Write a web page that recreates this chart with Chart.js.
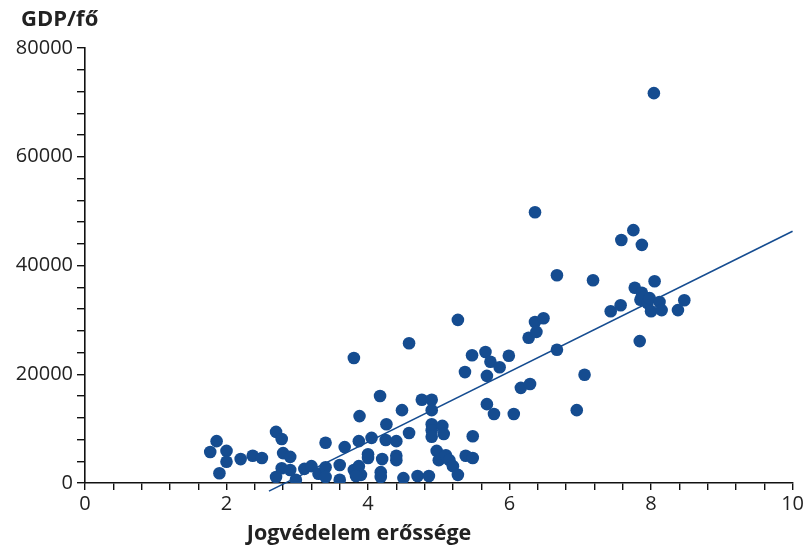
<!DOCTYPE html>
<html>
<head>
<meta charset="utf-8">
<script src="https://cdn.jsdelivr.net/npm/chart.js@4/dist/chart.umd.min.js"></script>
<style>
html,body{margin:0;padding:0;background:#fff;}
#wrap{width:806px;height:548px;position:relative;}
</style>
</head>
<body>
<div id="wrap"><canvas id="c" width="806" height="548"></canvas></div>
<script>
const yTitle = 'GDP/fő';
const xTitle = 'Jogvédelem erőssége';
const xTickLabels = [0, 2, 4, 6, 8, 10];
const yTickLabels = [0, 20000, 40000, 60000, 80000];

const jogvedelem = [
  1.77,1.86,1.9,2.0,2.0,2.2,2.37,2.5,2.7,2.78,2.7,2.8,2.9,2.78,2.9,2.98,3.1,3.2,3.3,3.4,
  3.4,3.4,3.6,3.6,3.67,3.8,3.88,3.87,3.8,3.87,3.9,3.83,4.0,4.05,4.0,4.17,4.18,4.18,4.2,4.26,
  4.25,4.4,4.4,4.4,4.48,4.5,4.58,4.58,4.7,4.76,4.86,4.9,4.9,4.9,4.9,4.9,4.97,5.0,5.05,5.07,
  5.1,5.15,5.2,5.27,5.27,5.37,5.47,5.48,5.38,5.48,5.66,5.68,5.68,5.73,5.78,5.86,5.99,6.06,6.16,6.29,
  6.27,6.36,6.38,6.36,6.48,6.67,6.67,7.06,6.95,7.18,7.43,7.57,7.58,7.75,7.77,7.84,7.87,7.87,7.85,7.9,
  7.95,7.98,8.0,8.05,8.04,8.12,8.15,8.38,8.47
];
const gdpPerCapita = [
  5700,7700,1800,5900,3900,4400,5000,4600,9400,8100,1100,5500,4800,2700,2400,600,2600,3100,1700,7400,
  2900,1100,600,3300,6600,23000,12300,7700,2400,3100,1500,1300,5300,8300,4600,16000,2000,1100,4400,10800,
  7900,7700,5000,4200,13400,900,25700,9200,1300,15300,1300,15300,13400,10800,9700,8500,5900,4200,10500,9000,
  5100,4200,3100,1500,30000,20400,23500,8600,5000,4600,24100,19700,14500,22300,12700,21300,23400,12700,17500,18200,
  26700,29600,27800,49800,30300,38200,24500,19900,13400,37300,31600,32700,44700,46500,35900,26100,43800,35000,33700,34200,
  33100,34000,31600,37100,71700,33300,31800,31800,33600
];
const trendX = [2.6, 10];
const trendY = [-1500, 46300];

const navy = '#154c90';
const textColor = '#222222';
const fontFam = '"Open Sans", "Liberation Sans", sans-serif';

const points = jogvedelem.map((x, i) => ({x: x, y: gdpPerCapita[i]}));
const trend = trendX.map((x, i) => ({x: x, y: trendY[i]}));

const textPlugin = {
  id: 'texts',
  afterDraw(chart) {
    const ctx = chart.ctx;
    ctx.save();
    ctx.fillStyle = textColor;
    ctx.textBaseline = 'middle';
    ctx.textAlign = 'left';
    ctx.font = 'bold 22px ' + fontFam;
    ctx.fillText(yTitle, 21, 20);
    ctx.textAlign = 'center';
    ctx.font = 'bold 21.5px ' + fontFam;
    ctx.fillText(xTitle, 359, 534);
    ctx.restore();
  }
};

new Chart(document.getElementById('c'), {
  type: 'scatter',
  data: {
    datasets: [
      {
        type: 'line',
        data: trend,
        borderColor: navy,
        borderWidth: 1.6,
        pointRadius: 0,
        fill: false,
        clip: false,
        order: 2
      },
      {
        data: points,
        backgroundColor: navy,
        borderColor: navy,
        borderWidth: 0,
        pointRadius: 6.3,
        pointHoverRadius: 6.3,
        order: 1
      }
    ]
  },
  plugins: [textPlugin],
  options: {
    responsive: false,
    animation: false,
    events: [],
    layout: {padding: {top: 48, right: 13, left: 0, bottom: 0}},
    plugins: {legend: {display: false}, tooltip: {enabled: false}, title: {display: false}},
    scales: {
      x: {
        type: 'linear',
        min: 0, max: 10,
        afterBuildTicks(scale) {
          const t = [];
          for (let i = 0; i <= 25; i++) t.push({value: +(i * 0.4).toFixed(1)});
          scale.ticks = t;
        },
        afterFit(scale) { scale.height = 65; },
        border: {display: true, color: '#111', width: 1.6},
        grid: {drawOnChartArea: false, drawTicks: true, tickLength: 7, color: '#111', lineWidth: 1.4},
        ticks: {
          autoSkip: false,
          maxRotation: 0,
          padding: 2,
          color: textColor,
          font: {size: 20, family: fontFam},
          callback(v) {
            const r = Math.round(v);
            return (Math.abs(v - r) < 1e-6 && xTickLabels.includes(r)) ? String(r) : '';
          }
        }
      },
      y: {
        type: 'linear',
        min: 0, max: 80000,
        afterBuildTicks(scale) {
          const t = [];
          for (let i = 0; i <= 20; i++) t.push({value: i * 4000});
          scale.ticks = t;
        },
        afterFit(scale) { scale.width = 85; },
        border: {display: true, color: '#111', width: 1.6},
        grid: {drawOnChartArea: false, drawTicks: true, tickLength: 8, color: '#111', lineWidth: 1.4},
        ticks: {
          autoSkip: false,
          padding: 4,
          color: textColor,
          font: {size: 20, family: fontFam},
          callback(v) { return yTickLabels.includes(v) ? String(v) : ''; }
        }
      }
    }
  }
});
</script>
</body>
</html>
